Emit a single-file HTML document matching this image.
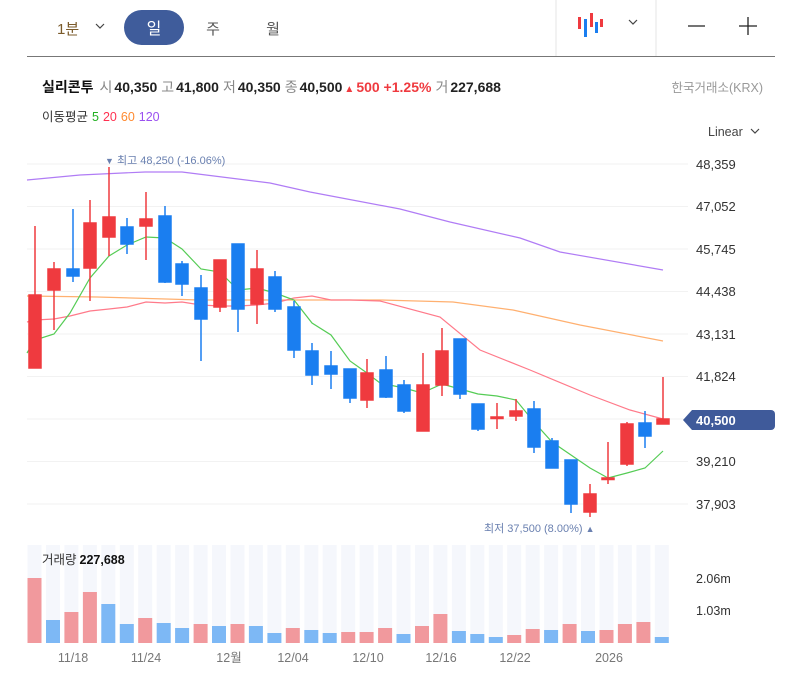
<!DOCTYPE html>
<html><head><meta charset="utf-8"><style>
body{margin:0;background:#fff;width:785px;height:682px;overflow:hidden;font-family:"Liberation Sans","Noto Sans CJK KR",sans-serif;}
svg text{font-family:"Liberation Sans","Noto Sans CJK KR",sans-serif;}
</style></head><body>
<svg width="785" height="682" viewBox="0 0 785 682" xmlns="http://www.w3.org/2000/svg">
<text x="57" y="34" font-size="15" fill="#7a5a2a">1분</text>
<path d="M96 24 l4 4 l4 -4" fill="none" stroke="#444" stroke-width="1.2"/>
<rect x="124" y="10" width="60" height="35" rx="17.5" fill="#3f5c9b"/>
<text x="154" y="34" font-size="16" fill="#fff" text-anchor="middle">일</text>
<text x="213" y="34" font-size="15" fill="#555" text-anchor="middle">주</text>
<text x="273" y="34" font-size="15" fill="#555" text-anchor="middle">월</text>
<line x1="556" y1="0" x2="556" y2="56" stroke="#e6e6e6"/>
<line x1="656" y1="0" x2="656" y2="56" stroke="#e6e6e6"/>
<line x1="27" y1="56.5" x2="775" y2="56.5" stroke="#777" stroke-width="1"/>
<rect x="578" y="17" width="3" height="12" fill="#ef3a3f"/>
<rect x="584" y="19" width="3" height="18" fill="#1a7ef0"/>
<rect x="590" y="13" width="3" height="14" fill="#ef3a3f"/>
<rect x="595" y="22" width="3" height="11" fill="#1a7ef0"/>
<rect x="600" y="19" width="3" height="8" fill="#ef3a3f"/>
<path d="M629 20 l4 4 l4 -4" fill="none" stroke="#444" stroke-width="1.2"/>
<line x1="688" y1="26" x2="705" y2="26" stroke="#222" stroke-width="1.3"/>
<line x1="739" y1="26" x2="757" y2="26" stroke="#222" stroke-width="1.3"/>
<line x1="748" y1="17" x2="748" y2="35" stroke="#222" stroke-width="1.3"/>
<text x="42" y="92" font-size="14"><tspan font-weight="bold" fill="#111">실리콘투</tspan><tspan fill="#888" dx="6">시</tspan><tspan fill="#222" font-weight="bold" dx="2">40,350</tspan><tspan fill="#888" dx="4">고</tspan><tspan fill="#222" font-weight="bold" dx="2">41,800</tspan><tspan fill="#888" dx="4">저</tspan><tspan fill="#222" font-weight="bold" dx="2">40,350</tspan><tspan fill="#888" dx="4">종</tspan><tspan fill="#222" font-weight="bold" dx="2">40,500</tspan><tspan fill="#ef3a3f" font-weight="bold" font-size="10" dx="2">▲</tspan><tspan fill="#ef3a3f" font-weight="bold" dx="2">500 +1.25%</tspan><tspan fill="#888" dx="4">거</tspan><tspan fill="#222" font-weight="bold" dx="2">227,688</tspan></text>
<text x="763" y="92" font-size="12.5" fill="#999" text-anchor="end">한국거래소(KRX)</text>
<text x="42" y="121" font-size="12.5"><tspan fill="#333">이동평균</tspan><tspan fill="#22b022" dx="4">5</tspan><tspan fill="#ff3050" dx="4">20</tspan><tspan fill="#ff8a30" dx="4">60</tspan><tspan fill="#9a50f0" dx="4">120</tspan></text>
<text x="708" y="136" font-size="12.5" fill="#444">Linear</text>
<path d="M751 129 l4 4 l4 -4" fill="none" stroke="#444" stroke-width="1.2"/>
<g stroke="#f2f2f2" stroke-width="1">
<line x1="27" y1="164" x2="688" y2="164"/><line x1="27" y1="206.5" x2="688" y2="206.5"/><line x1="27" y1="249" x2="688" y2="249"/><line x1="27" y1="291.5" x2="688" y2="291.5"/><line x1="27" y1="334" x2="688" y2="334"/><line x1="27" y1="376.5" x2="688" y2="376.5"/><line x1="27" y1="419" x2="688" y2="419"/><line x1="27" y1="461.5" x2="688" y2="461.5"/><line x1="27" y1="504" x2="688" y2="504"/>
</g>
<g font-size="13" fill="#333">
<text x="696" y="169">48,359</text><text x="696" y="211">47,052</text><text x="696" y="254">45,745</text><text x="696" y="296">44,438</text><text x="696" y="339">43,131</text><text x="696" y="381">41,824</text><text x="696" y="466">39,210</text><text x="696" y="509">37,903</text>
</g>
<path d="M683 420 L692 410 H771 a4 4 0 0 1 4 4 V426 a4 4 0 0 1 -4 4 H692 Z" fill="#3f5a9a"/>
<text x="696" y="425" font-size="13" fill="#fff" font-weight="bold">40,500</text>
<g fill="none" stroke-width="1.2">
<polyline stroke="#b07cf5" points="27,180 80,175 145,172 182,172 270,183 310,192 400,209 450,222 520,238 560,252 663,270"/>
<polyline stroke="#ffb070" points="27,296 97,297 200,300 380,300 453,302 513,310 580,325 663,341"/>
<polyline stroke="#ff7a8a" points="27,322 35,320 54,319 70,316 90,311 109,309 127,307 146,302 165,303 182,302 201,305 220,306 238,306 257,305 275,303 294,298 312,296 331,300 350,300 380,301 440,317 480,350 530,370 590,395 630,410 663,419"/>
<polyline stroke="#55cc55" points="27,353 35,340 54,334 70,313 90,278 109,256 127,245 146,237 165,238 182,249 201,269 220,272 238,290 257,288 275,293 294,300 312,323 331,335 350,361 367,373 380,383 404,388 422,393 442,384 460,389 478,394 497,396 516,400 534,422 552,442 571,455 590,468 608,478 627,473 645,468 663,451"/>
</g>
<g stroke-width="1.5">
<g stroke="#ef3a3f" fill="#ef3a3f">
<line x1="35" y1="226" x2="35" y2="368"/><rect x="29" y="295" width="12" height="73"/>
<line x1="54" y1="262" x2="54" y2="330"/><rect x="48" y="269" width="12" height="21"/>
<line x1="90" y1="200" x2="90" y2="301"/><rect x="84" y="223" width="12" height="45"/>
<line x1="109" y1="167" x2="109" y2="256"/><rect x="103" y="217" width="12" height="20"/>
<line x1="146" y1="192" x2="146" y2="260"/><rect x="140" y="219" width="12" height="7"/>
<line x1="220" y1="260" x2="220" y2="312"/><rect x="214" y="260" width="12" height="47"/>
<line x1="257" y1="250" x2="257" y2="324"/><rect x="251" y="269" width="12" height="35"/>
<line x1="367" y1="359" x2="367" y2="408"/><rect x="361" y="373" width="12" height="27"/>
<line x1="423" y1="353" x2="423" y2="431"/><rect x="417" y="385" width="12" height="46"/>
<line x1="442" y1="328" x2="442" y2="396"/><rect x="436" y="351" width="12" height="34"/>
<line x1="497" y1="403" x2="497" y2="429"/><rect x="491" y="417" width="12" height="1.5"/>
<line x1="516" y1="399" x2="516" y2="421"/><rect x="510" y="411" width="12" height="5"/>
<line x1="590" y1="484" x2="590" y2="517"/><rect x="584" y="494" width="12" height="18"/>
<line x1="608" y1="442" x2="608" y2="484"/><rect x="602" y="478" width="12" height="1.5"/>
<line x1="627" y1="422" x2="627" y2="466"/><rect x="621" y="424" width="12" height="40"/>
<line x1="663" y1="377" x2="663" y2="424"/><rect x="657" y="419" width="12" height="5"/>
</g>
<g stroke="#1a7ef0" fill="#1a7ef0">
<line x1="73" y1="209" x2="73" y2="282"/><rect x="67" y="269" width="12" height="7"/>
<line x1="127" y1="218" x2="127" y2="254"/><rect x="121" y="227" width="12" height="17"/>
<line x1="165" y1="206" x2="165" y2="283"/><rect x="159" y="216" width="12" height="66"/>
<line x1="182" y1="261" x2="182" y2="296"/><rect x="176" y="264" width="12" height="20"/>
<line x1="201" y1="275" x2="201" y2="361"/><rect x="195" y="288" width="12" height="31"/>
<line x1="238" y1="244" x2="238" y2="332"/><rect x="232" y="244" width="12" height="65"/>
<line x1="275" y1="271" x2="275" y2="312"/><rect x="269" y="277" width="12" height="32"/>
<line x1="294" y1="301" x2="294" y2="358"/><rect x="288" y="307" width="12" height="43"/>
<line x1="312" y1="343" x2="312" y2="385"/><rect x="306" y="351" width="12" height="24"/>
<line x1="331" y1="351" x2="331" y2="389"/><rect x="325" y="366" width="12" height="8"/>
<line x1="350" y1="369" x2="350" y2="403"/><rect x="344" y="369" width="12" height="29"/>
<line x1="386" y1="356" x2="386" y2="398"/><rect x="380" y="370" width="12" height="27"/>
<line x1="404" y1="380" x2="404" y2="413"/><rect x="398" y="385" width="12" height="26"/>
<line x1="460" y1="339" x2="460" y2="399"/><rect x="454" y="339" width="12" height="55"/>
<line x1="478" y1="404" x2="478" y2="431"/><rect x="472" y="404" width="12" height="25"/>
<line x1="534" y1="401" x2="534" y2="453"/><rect x="528" y="409" width="12" height="38"/>
<line x1="552" y1="438" x2="552" y2="468"/><rect x="546" y="441" width="12" height="27"/>
<line x1="571" y1="460" x2="571" y2="513"/><rect x="565" y="460" width="12" height="44"/>
<line x1="645" y1="411" x2="645" y2="448"/><rect x="639" y="423" width="12" height="13"/>
</g>
</g>
<text x="105" y="164" font-size="11" fill="#6a80b0"><tspan font-size="9">▼</tspan> 최고 48,250 (-16.06%)</text>
<text x="484" y="532" font-size="11" fill="#6a80b0">최저 37,500 (8.00%) <tspan font-size="9">▲</tspan></text>
<g fill="#f5f7fc">
<rect x="27.5" y="545" width="14" height="98"/><rect x="46" y="545" width="14" height="98"/><rect x="64.4" y="545" width="14" height="98"/><rect x="82.9" y="545" width="14" height="98"/><rect x="101.3" y="545" width="14" height="98"/><rect x="119.8" y="545" width="14" height="98"/><rect x="138.2" y="545" width="14" height="98"/><rect x="156.7" y="545" width="14" height="98"/><rect x="175.1" y="545" width="14" height="98"/><rect x="193.6" y="545" width="14" height="98"/><rect x="212" y="545" width="14" height="98"/><rect x="230.5" y="545" width="14" height="98"/><rect x="248.9" y="545" width="14" height="98"/><rect x="267.4" y="545" width="14" height="98"/><rect x="285.8" y="545" width="14" height="98"/><rect x="304.3" y="545" width="14" height="98"/><rect x="322.7" y="545" width="14" height="98"/><rect x="341.2" y="545" width="14" height="98"/><rect x="359.6" y="545" width="14" height="98"/><rect x="378.1" y="545" width="14" height="98"/><rect x="396.5" y="545" width="14" height="98"/><rect x="415" y="545" width="14" height="98"/><rect x="433.4" y="545" width="14" height="98"/><rect x="451.9" y="545" width="14" height="98"/><rect x="470.3" y="545" width="14" height="98"/><rect x="488.8" y="545" width="14" height="98"/><rect x="507.2" y="545" width="14" height="98"/><rect x="525.7" y="545" width="14" height="98"/><rect x="544.1" y="545" width="14" height="98"/><rect x="562.6" y="545" width="14" height="98"/><rect x="581" y="545" width="14" height="98"/><rect x="599.5" y="545" width="14" height="98"/><rect x="617.9" y="545" width="14" height="98"/><rect x="636.4" y="545" width="14" height="98"/><rect x="654.8" y="545" width="14" height="98"/>
</g>
<g>
<rect x="27.5" y="578" width="14" height="65" fill="#f1999d"/><rect x="46" y="620" width="14" height="23" fill="#7db8f5"/><rect x="64.4" y="612" width="14" height="31" fill="#f1999d"/><rect x="82.9" y="592" width="14" height="51" fill="#f1999d"/><rect x="101.3" y="604" width="14" height="39" fill="#7db8f5"/><rect x="119.8" y="624" width="14" height="19" fill="#7db8f5"/><rect x="138.2" y="618" width="14" height="25" fill="#f1999d"/><rect x="156.7" y="623" width="14" height="20" fill="#7db8f5"/><rect x="175.1" y="628" width="14" height="15" fill="#7db8f5"/><rect x="193.6" y="624" width="14" height="19" fill="#f1999d"/><rect x="212" y="626" width="14" height="17" fill="#7db8f5"/><rect x="230.5" y="624" width="14" height="19" fill="#f1999d"/><rect x="248.9" y="626" width="14" height="17" fill="#7db8f5"/><rect x="267.4" y="633" width="14" height="10" fill="#7db8f5"/><rect x="285.8" y="628" width="14" height="15" fill="#f1999d"/><rect x="304.3" y="630" width="14" height="13" fill="#7db8f5"/><rect x="322.7" y="633" width="14" height="10" fill="#7db8f5"/><rect x="341.2" y="632" width="14" height="11" fill="#f1999d"/><rect x="359.6" y="632" width="14" height="11" fill="#f1999d"/><rect x="378.1" y="628" width="14" height="15" fill="#f1999d"/><rect x="396.5" y="634" width="14" height="9" fill="#7db8f5"/><rect x="415" y="626" width="14" height="17" fill="#f1999d"/><rect x="433.4" y="614" width="14" height="29" fill="#f1999d"/><rect x="451.9" y="631" width="14" height="12" fill="#7db8f5"/><rect x="470.3" y="634" width="14" height="9" fill="#7db8f5"/><rect x="488.8" y="637" width="14" height="6" fill="#7db8f5"/><rect x="507.2" y="635" width="14" height="8" fill="#f1999d"/><rect x="525.7" y="629" width="14" height="14" fill="#f1999d"/><rect x="544.1" y="630" width="14" height="13" fill="#7db8f5"/><rect x="562.6" y="624" width="14" height="19" fill="#f1999d"/><rect x="581" y="631" width="14" height="12" fill="#7db8f5"/><rect x="599.5" y="630" width="14" height="13" fill="#f1999d"/><rect x="617.9" y="624" width="14" height="19" fill="#f1999d"/><rect x="636.4" y="622" width="14" height="21" fill="#f1999d"/><rect x="654.8" y="637" width="14" height="6" fill="#7db8f5"/>
</g>
<text x="42" y="564" font-size="12.5"><tspan fill="#333">거래량</tspan><tspan fill="#111" font-weight="bold" dx="3">227,688</tspan></text>
<text x="696" y="583" font-size="12.5" fill="#333">2.06m</text>
<text x="696" y="615" font-size="12.5" fill="#333">1.03m</text>
<g font-size="12.5" fill="#777" text-anchor="middle">
<text x="73" y="662">11/18</text><text x="146" y="662">11/24</text><text x="229" y="662">12월</text><text x="293" y="662">12/04</text><text x="368" y="662">12/10</text><text x="441" y="662">12/16</text><text x="515" y="662">12/22</text><text x="609" y="662">2026</text>
</g>
</svg>
</body></html>
